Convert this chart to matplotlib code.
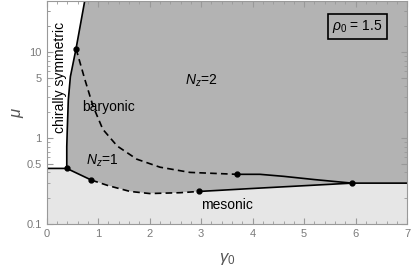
import numpy as np
import matplotlib
matplotlib.use('Agg')
import matplotlib.pyplot as plt
from matplotlib.ticker import FixedLocator, FixedFormatter, NullFormatter

plt.rcParams['font.family'] = ['Liberation Sans', 'DejaVu Sans']
plt.rcParams['mathtext.fontset'] = 'custom'
plt.rcParams['mathtext.it'] = 'Liberation Sans:italic'
plt.rcParams['mathtext.rm'] = 'Liberation Sans'

# chiral transition line (white / grey)
chiral_x = [0.39, 0.39, 0.40, 0.42, 0.46, 0.57, 0.74]
chiral_mu = [0.445, 0.80, 1.27, 2.8, 5.2, 11.0, 40.0]

# lower boundary of the Nz phases (mesonic below)
low_solid1_x = [0.0, 0.39, 0.87]
low_solid1_mu = [0.445, 0.445, 0.325]
low_dash_x = [0.87, 1.2, 1.62, 2.0, 2.59, 2.96]
low_dash_mu = [0.325, 0.28, 0.24, 0.227, 0.232, 0.24]
low_solid2_x = [2.96, 4.0, 5.0, 5.93, 7.0]
low_solid2_mu = [0.24, 0.26, 0.28, 0.30, 0.30]

# Nz=1 / Nz=2 boundary
up_dash_x = [0.57, 0.74, 0.90, 1.09, 1.37, 1.75, 2.20, 2.78, 3.69]
up_dash_mu = [11.0, 4.85, 2.36, 1.27, 0.81, 0.57, 0.46, 0.40, 0.38]
up_solid_x = [3.69, 4.14, 4.6, 5.2, 5.93]
up_solid_mu = [0.38, 0.38, 0.36, 0.33, 0.30]

pts_x = [0.39, 0.87, 0.57, 3.69, 2.96, 5.93]
pts_mu = [0.445, 0.325, 11.0, 0.38, 0.24, 0.30]

DARK = '#b3b3b3'
LIGHT = '#e6e6e6'
TXT = '#7a7a7a'

fig = plt.figure(figsize=(4.15, 2.72), dpi=100)
ax = fig.add_axes([0.1125, 0.176, 0.8685, 0.822])
ax.set_yscale('log')
ax.set_xlim(0, 7)
ax.set_ylim(0.1, 40)

low_x = low_solid1_x + low_dash_x[1:] + low_solid2_x[1:]
low_mu = low_solid1_mu + low_dash_mu[1:] + low_solid2_mu[1:]

ax.fill_between(low_x, 0.1, low_mu, color=LIGHT, lw=0, zorder=0)
k = low_x.index(0.39)
poly_x = chiral_x + [7.0] + low_x[:k:-1]
poly_mu = chiral_mu + [40.0] + low_mu[:k:-1]
ax.fill(poly_x, poly_mu, color=DARK, lw=0, zorder=0)

lw = 1.2
ax.plot(chiral_x, chiral_mu, 'k-', lw=lw)
ax.plot(low_solid1_x, low_solid1_mu, 'k-', lw=lw)
ax.plot(low_dash_x, low_dash_mu, 'k--', lw=lw, dashes=(4, 2.5))
ax.plot(low_solid2_x, low_solid2_mu, 'k-', lw=lw)
ax.plot(up_dash_x, up_dash_mu, 'k--', lw=lw, dashes=(4, 2.5))
ax.plot(up_solid_x, up_solid_mu, 'k-', lw=lw)
ax.plot(pts_x, pts_mu, 'ko', ms=3.5, zorder=5)

fs = 10
ax.text(0.26, 5.1, 'chirally symmetric', rotation=90, ha='center', va='center', fontsize=fs)
ax.text(1.21, 2.3, 'baryonic', ha='center', va='center', fontsize=fs)
ax.text(3.0, 4.6, r'$N_z$=2', ha='center', va='center', fontsize=fs)
ax.text(1.08, 0.54, r'$N_z$=1', ha='center', va='center', fontsize=fs)
ax.text(3.51, 0.166, 'mesonic', ha='center', va='center', fontsize=fs)
ax.text(0.8626, 0.884, r'$\rho_0$ = 1.5', transform=ax.transAxes, ha='center', va='center',
        fontsize=fs, bbox=dict(boxstyle='square,pad=0.3', fc=DARK, ec='k', lw=1.2))

ax.set_xticks(range(8))
ax.set_xticks(np.arange(0, 7.01, 0.2), minor=True)
ax.yaxis.set_major_locator(FixedLocator([0.1, 0.5, 1, 5, 10]))
ax.yaxis.set_major_formatter(FixedFormatter(['0.1', '0.5', '1', '5', '10']))
minor = [m * 10.0 ** e for e in (-1, 0, 1) for m in range(2, 10)] + [20, 30]
ax.yaxis.set_minor_locator(FixedLocator(minor))
ax.yaxis.set_minor_formatter(NullFormatter())

ax.tick_params(which='both', direction='in', top=True, right=True, color='#999999',
               labelcolor=TXT, labelsize=8)
ax.tick_params(which='major', length=4, width=0.8)
ax.tick_params(which='minor', length=2, width=0.6)
for s in ax.spines.values():
    s.set_color('#999999')
    s.set_linewidth(0.8)

ax.set_xlabel(r'$\gamma_0$', fontsize=12, color='#555555', labelpad=9)
ax.set_ylabel(r'$\mu$', fontsize=12, color='#555555', labelpad=0)

fig.savefig('out.png', dpi=100)
